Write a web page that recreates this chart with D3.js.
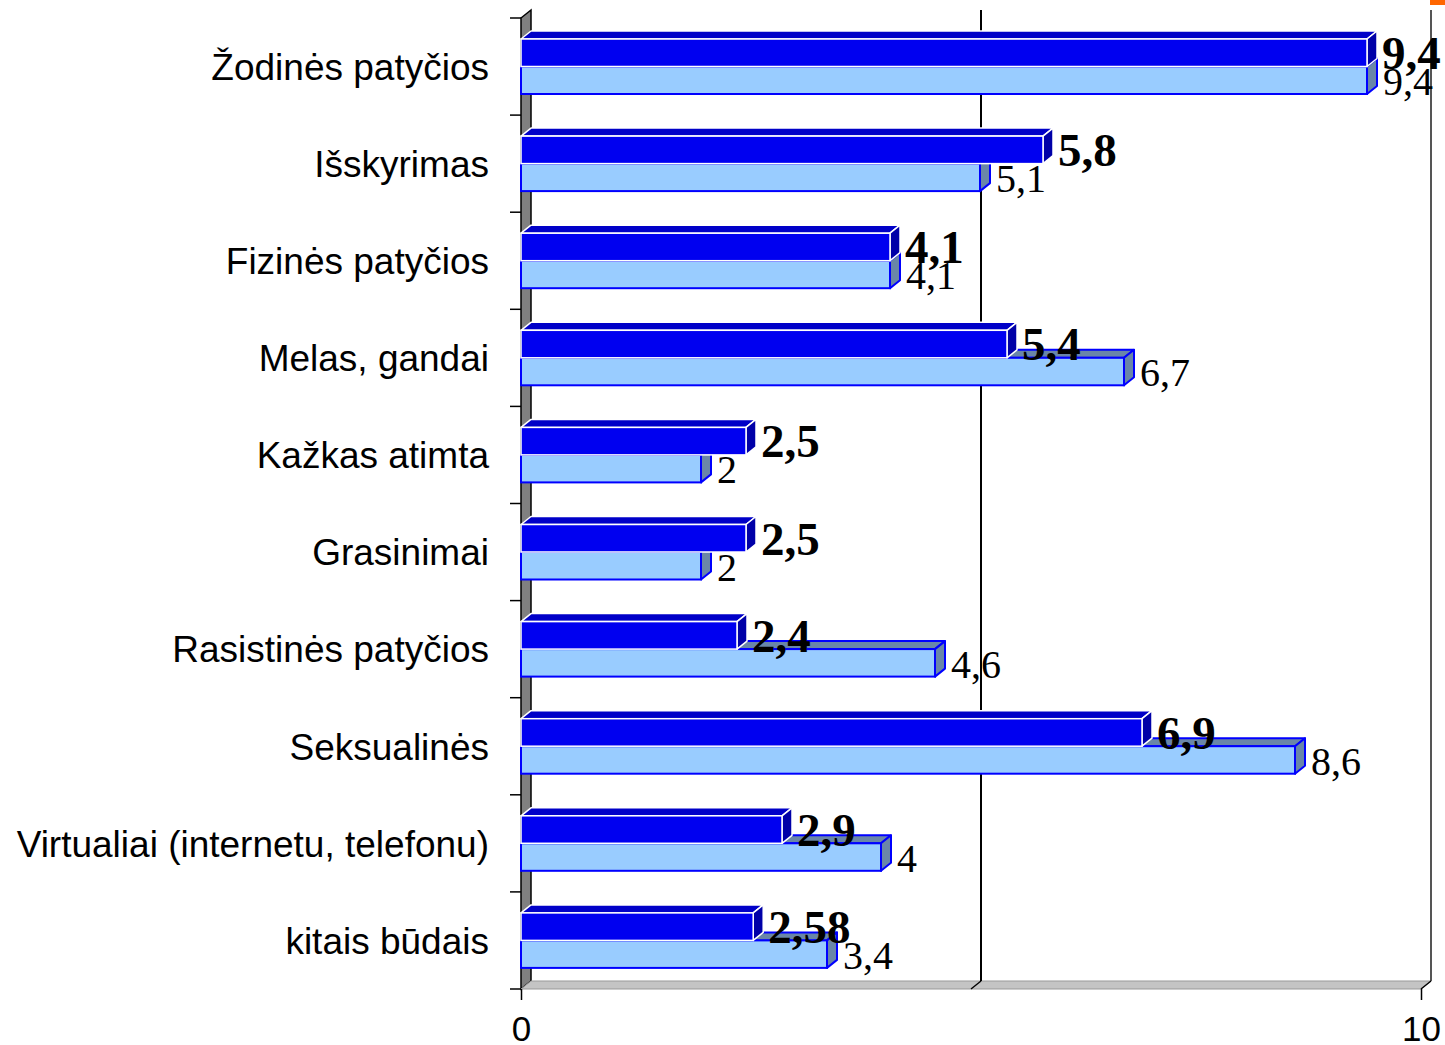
<!DOCTYPE html>
<html>
<head>
<meta charset="utf-8">
<script src="https://cdn.jsdelivr.net/npm/d3@7"></script>
<style>
  body { margin: 0; background: #fff; }
  svg { display: block; }
</style>
</head>
<body>
<svg id="chart" width="1445" height="1045"></svg>
<script>
// categories, top to bottom
const categories = [
  'Žodinės patyčios',
  'Išskyrimas',
  'Fizinės patyčios',
  'Melas, gandai',
  'Kažkas atimta',
  'Grasinimai',
  'Rasistinės patyčios',
  'Seksualinės',
  'Virtualiai (internetu, telefonu)',
  'kitais būdais'
];
// dark blue series (bold labels)
const seriesDark = [9.4, 5.8, 4.1, 5.4, 2.5, 2.5, 2.4, 6.9, 2.9, 2.58];
// light blue series
const seriesLight = [9.4, 5.1, 4.1, 6.7, 2, 2, 4.6, 8.6, 4, 3.4];
const xTicks = [0, 10];
const gridValues = [5];

const COLORS = {
  darkFront : '#0000F0',
  darkTop   : '#0000C8',
  darkSide  : '#0000A8',
  lightFront: '#99CCFF',
  lightTop  : '#6A86A8',
  lightSide : '#6A86A8',
  lightEdge : '#0000FF',
  wall      : '#808080',
  floor     : '#C4C4C4'
};

// 3D depth offset
const DX = 10, DY = -8;

const svg = d3.select('#chart');

const x = d3.scaleLinear().domain([0, 10]).range([521, 1421]);
const y = d3.scaleBand().domain(categories).range([18, 989]).padding(0);
const sub = d3.scaleBand().domain(['dark', 'light']).range([21, 76]);

const poly = pts => pts.map(p => p.join(',')).join(' ');
const x0 = x(0), xMax = x(10), yTop = y.range()[0], yBot = y.range()[1];

// left wall
svg.append('polygon')
  .attr('points', poly([[x0, yTop], [x0 + DX, yTop + DY], [x0 + DX, yBot + DY], [x0, yBot]]))
  .attr('fill', COLORS.wall)
  .attr('stroke', '#000')
  .attr('stroke-width', 1.5);

// floor
svg.append('polygon')
  .attr('points', poly([[x0, yBot], [xMax, yBot], [xMax + DX, yBot + DY], [x0 + DX, yBot + DY]]))
  .attr('fill', COLORS.floor)
  .attr('stroke', '#999')
  .attr('stroke-width', 1);

// gridlines on the back wall + right edge
gridValues.concat([10]).forEach(v => {
  const gx = x(v) + DX;
  svg.append('line')
    .attr('x1', gx).attr('x2', gx)
    .attr('y1', yTop + DY).attr('y2', yBot + DY)
    .attr('stroke', v === 10 ? '#555' : '#000')
    .attr('stroke-width', 2);
  svg.append('line')
    .attr('x1', x(v)).attr('y1', yBot)
    .attr('x2', gx).attr('y2', yBot + DY)
    .attr('stroke', '#000')
    .attr('stroke-width', 1.5);
});

// left ticks at band boundaries
const boundaries = categories.map(c => y(c)).concat([yBot]);
svg.append('g')
  .selectAll('line')
  .data(boundaries)
  .join('line')
    .attr('x1', x0 - 11).attr('x2', x0)
    .attr('y1', d => d).attr('y2', d => d)
    .attr('stroke', '#000')
    .attr('stroke-width', 1.5);

// bottom axis (0 and 10)
const xAxis = svg.append('g')
  .attr('transform', `translate(0,${yBot})`)
  .call(d3.axisBottom(x).tickValues(xTicks).tickSize(11).tickPadding(16).tickFormat(d3.format('d')));
xAxis.select('.domain').remove();
xAxis.selectAll('line').attr('stroke', '#000').attr('stroke-width', 1.5);
xAxis.selectAll('text')
  .attr('fill', '#000')
  .style('font-family', 'Liberation Sans, Arial, sans-serif')
  .style('font-size', '35px');

// category labels
const yAxis = svg.append('g')
  .attr('transform', `translate(${x0},0)`)
  .call(d3.axisLeft(y).tickSize(0).tickPadding(32));
yAxis.select('.domain').remove();
yAxis.selectAll('text')
  .attr('fill', '#000')
  .attr('dy', '0.36em')
  .style('font-family', 'Liberation Sans, Arial, sans-serif')
  .style('font-size', '37px');

// one 3D bar: front face, top face, side face
function drawBar(g, v, y0, h, front, top, side, edge, edgeW) {
  const xs = x(0), xe = x(v);
  g.append('polygon')
    .attr('points', poly([[xs, y0], [xs + DX, y0 + DY], [xe + DX, y0 + DY], [xe, y0]]))
    .attr('fill', top).attr('stroke', edge).attr('stroke-width', edgeW).attr('stroke-linejoin', 'round');
  g.append('polygon')
    .attr('points', poly([[xe, y0], [xe + DX, y0 + DY], [xe + DX, y0 + h + DY], [xe, y0 + h]]))
    .attr('fill', side).attr('stroke', edge).attr('stroke-width', edgeW).attr('stroke-linejoin', 'round');
  g.append('rect')
    .attr('x', xs).attr('y', y0)
    .attr('width', xe - xs).attr('height', h)
    .attr('fill', front).attr('stroke', edge).attr('stroke-width', edgeW);
}

const bars = svg.append('g');
categories.forEach((c, i) => {
  const g = bars.append('g');
  // light bar first, the dark bar sits above and covers its top face
  drawBar(g, seriesLight[i], y(c) + sub('light'), sub.bandwidth(),
    COLORS.lightFront, COLORS.lightTop, COLORS.lightSide, COLORS.lightEdge, 2);
  drawBar(g, seriesDark[i], y(c) + sub('dark'), sub.bandwidth(),
    COLORS.darkFront, COLORS.darkTop, COLORS.darkSide, '#fff', 1.5);
});

const fmt = v => String(v).replace('.', ',');

// light labels
svg.append('g')
  .selectAll('text')
  .data(categories)
  .join('text')
    .attr('x', (c, i) => x(seriesLight[i]) + 16)
    .attr('y', c => y(c) + 77)
    .style('font-family', 'Liberation Serif, Times New Roman, serif')
    .style('font-size', '40px')
    .text((c, i) => fmt(seriesLight[i]));

// dark labels (bold)
svg.append('g')
  .selectAll('text')
  .data(categories)
  .join('text')
    .attr('x', (c, i) => x(seriesDark[i]) + 15)
    .attr('y', c => y(c) + 51)
    .style('font-family', 'Liberation Serif, Times New Roman, serif')
    .style('font-size', '47px')
    .style('font-weight', 'bold')
    .text((c, i) => fmt(seriesDark[i]));

// small orange mark at top right corner
svg.append('rect')
  .attr('x', 1430).attr('y', 0)
  .attr('width', 15).attr('height', 5)
  .attr('fill', '#FF6600');
</script>
</body>
</html>
